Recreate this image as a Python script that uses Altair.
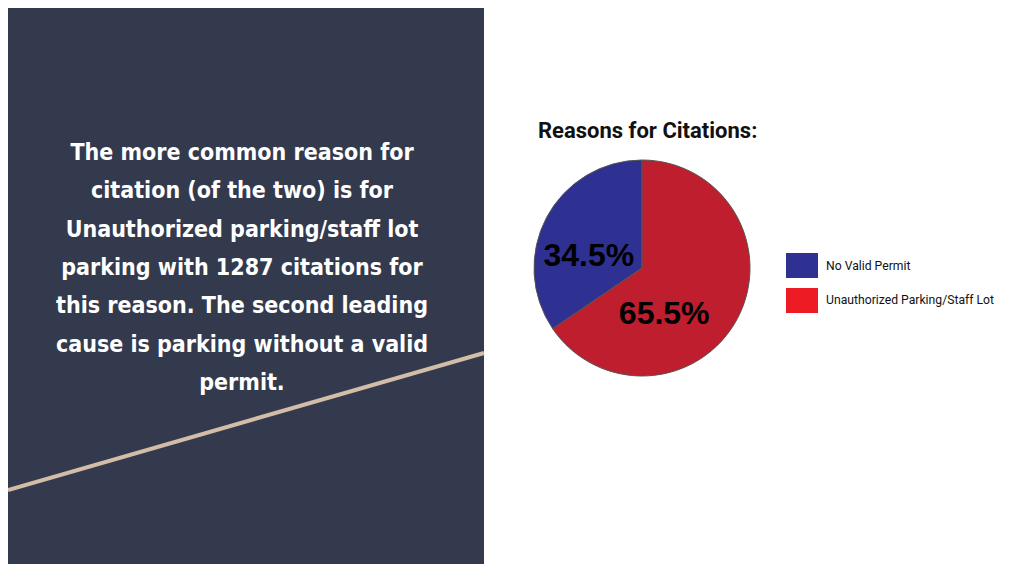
import altair as alt
import pandas as pd

# ---- data ----
categories = ["No Valid Permit", "Unauthorized Parking/Staff Lot"]
citations = [678, 1287]
pct_labels = ["34.5%", "65.5%"]
slice_order = [1, 0]
pie_colors = ["#2e3192", "#be1e2d"]
legend_colors = ["#2e3192", "#ed1c24"]

title_text = "Reasons for Citations:"
body_lines = [
    "The more common reason for",
    "citation (of the two) is for",
    "Unauthorized parking/staff lot",
    "parking with 1287 citations for",
    "this reason.  The second leading",
    "cause is parking without a valid",
    "permit.",
]

df = pd.DataFrame({
    "category": categories,
    "citations": citations,
    "label": pct_labels,
    "ord": slice_order,
})
body_df = pd.DataFrame({"t": ["\n".join(body_lines)]})
title_df = pd.DataFrame({"t": [title_text]})

W, H = 1008, 556
CX, CY, R = 634, 260, 108

panel = alt.Chart(title_df).mark_rect(color="#333a4e").encode(
    x=alt.value(0), x2=alt.value(476), y=alt.value(0), y2=alt.value(H)
)
diag = alt.Chart(title_df).mark_rule(color="#d3bda6", strokeWidth=4).encode(
    x=alt.value(0), y=alt.value(482), x2=alt.value(476), y2=alt.value(345)
)
body = alt.Chart(body_df).mark_text(
    lineBreak="\n", lineHeight=38.3, align="center", baseline="middle",
    font="DejaVu Sans Condensed", fontWeight="bold", fontSize=23, color="white",
).encode(text="t:N", x=alt.value(234), y=alt.value(145))

title = alt.Chart(title_df).mark_text(
    align="left", baseline="middle", font="Roboto", fontWeight="bold",
    fontSize=22, color="#111111",
).encode(text="t:N", x=alt.value(530), y=alt.value(123))

pie = alt.Chart(df).mark_arc(radius=R, stroke="#555555", strokeWidth=1).encode(
    theta=alt.Theta("citations:Q", stack=True),
    order=alt.Order("ord:Q"),
    color=alt.Color("category:N", scale=alt.Scale(domain=categories, range=pie_colors), legend=None),
    x=alt.value(CX), y=alt.value(CY),
)

def pie_label(cat, dx, dy):
    return alt.Chart(df).transform_stack(
        stack="citations", groupby=[], as_=["s0", "s1"],
        sort=[alt.SortField("ord", order="ascending")],
    ).transform_calculate(
        mid="(datum.s0 + datum.s1) / 2"
    ).transform_filter(
        alt.datum.category == cat
    ).mark_text(
        radius=50, dx=dx, dy=dy, font="Liberation Sans", fontWeight="bold",
        fontSize=32, color="black", align="center", baseline="middle",
    ).encode(
        theta=alt.Theta("mid:Q", stack=None),
        text="label:N",
        x=alt.value(CX), y=alt.value(CY),
    )

lab_blue = pie_label(categories[0], -9, 11)
lab_red = pie_label(categories[1], -22, 23)

yscale = alt.Scale(domain=categories, range=[245, 305], paddingInner=0.2857, paddingOuter=0)
leg_rect = alt.Chart(df).mark_rect().encode(
    x=alt.value(778), x2=alt.value(810),
    y=alt.Y("category:N", scale=yscale, axis=None),
    color=alt.Color("category:N", scale=alt.Scale(domain=categories, range=legend_colors), legend=None),
)
leg_text = alt.Chart(df).mark_text(
    align="left", baseline="middle", font="Roboto", fontSize=12.2, color="#111111",
).encode(
    x=alt.value(818),
    y=alt.Y("category:N", scale=yscale, axis=None, bandPosition=0.5),
    text="category:N",
)

chart = alt.layer(
    panel, diag, body, title, pie, lab_blue, lab_red, leg_rect, leg_text
).resolve_scale(color="independent").properties(
    width=W, height=H, padding=0, autosize=alt.AutoSizeParams(type="none"),
    background="white",
).configure_view(stroke=None)

chart.save("out.html", embed_options={"renderer": "svg", "actions": False})
